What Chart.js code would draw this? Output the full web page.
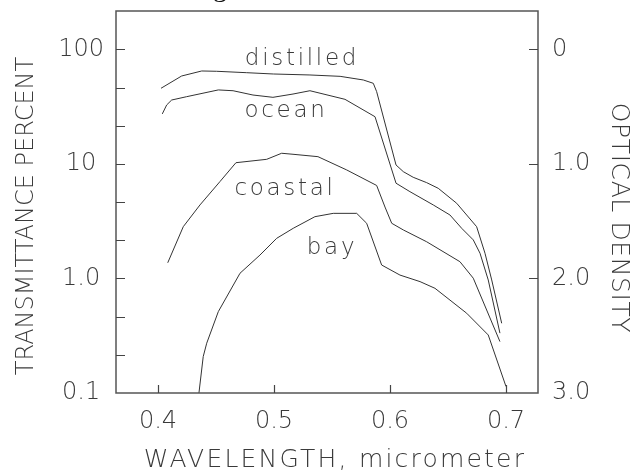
<!DOCTYPE html>
<html>
<head>
<meta charset="utf-8">
<script src="https://cdn.jsdelivr.net/npm/chart.js@4.4.1/dist/chart.umd.min.js"></script>
<style>
  html, body { margin: 0; padding: 0; background: #ffffff; }
  #wrap { width: 632px; height: 470px; }
</style>
</head>
<body>
<div id="wrap"><canvas id="chart" width="632" height="470"></canvas></div>
<script>
// Spectral transmittance of water samples (wavelength in micrometers, transmittance in percent)
const distilledWl = [0.4026, 0.4204, 0.4377, 0.4506, 0.4765, 0.4994, 0.5310, 0.5570, 0.5770, 0.5856, 0.5885, 0.6052, 0.6115, 0.6200, 0.6316, 0.6416, 0.6575, 0.6747, 0.6819, 0.6877, 0.6963];
const distilledT  = [45.7, 58.5, 64.7, 64.3, 62.5, 60.9, 59.7, 58.1, 54.0, 50.5, 42.7, 9.78, 8.55, 7.64, 6.86, 6.12, 4.53, 2.83, 1.66, 0.97, 0.406];

const oceanWl = [0.4037, 0.4075, 0.4118, 0.4247, 0.4520, 0.4647, 0.4819, 0.4991, 0.5164, 0.5310, 0.5612, 0.5871, 0.6052, 0.6172, 0.6373, 0.6517, 0.6618, 0.6718, 0.6776, 0.6847, 0.6948];
const oceanT  = [27.3, 32.7, 36.1, 38.6, 44.2, 43.5, 39.9, 38.1, 40.7, 43.5, 36.6, 25.8, 6.78, 5.72, 4.38, 3.58, 2.74, 2.17, 1.66, 0.97, 0.333];

const coastalWl = [0.4084, 0.4218, 0.4362, 0.4534, 0.4672, 0.4937, 0.5066, 0.5164, 0.5379, 0.5627, 0.5885, 0.5957, 0.6015, 0.6115, 0.6316, 0.6603, 0.6718, 0.6948];
const coastalT  = [1.37, 2.83, 4.38, 7.0, 10.24, 10.96, 12.38, 12.13, 11.56, 8.85, 6.48, 4.20, 3.03, 2.65, 2.09, 1.40, 1.005, 0.281];

const bayWl = [0.4353, 0.4390, 0.4420, 0.4520, 0.4707, 0.4879, 0.5023, 0.5166, 0.5353, 0.5511, 0.5713, 0.5799, 0.5928, 0.6086, 0.6259, 0.6388, 0.6661, 0.6847, 0.7000];
const bayT  = [0.1, 0.208, 0.272, 0.513, 1.11, 1.60, 2.24, 2.74, 3.46, 3.70, 3.70, 3.03, 1.31, 1.07, 0.938, 0.82, 0.497, 0.321, 0.114];

// Curve names and where each name sits (wavelength, transmittance of its baseline)
const curveNames = ['distilled', 'ocean', 'coastal', 'bay'];
const curveNameWl = [0.5241, 0.5103, 0.5095, 0.5500];
const curveNameT  = [72.9, 25.6, 5.35, 1.64];

// Axis ticks and titles
const wlTicks = [0.4, 0.5, 0.6, 0.7];
const wlTickLabels = ['0.4', '0.5', '0.6', '0.7'];
const transDecades = [0.1, 1, 10, 100];
const transDecadeLabels = ['0.1', '1.0', '10', '100'];
const densityTicks = [0, 1, 2, 3];
const densityTickLabels = ['0', '1.0', '2.0', '3.0'];
const xTitle = 'WAVELENGTH, micrometer';
const yTitle = 'TRANSMITTANCE PERCENT';
const y2Title = 'OPTICAL DENSITY';

// Axis ranges
const wlMin = 0.3638, wlMax = 0.7276;
const transMin = 0.1, transMax = 216;
const densityStep = 1 / 3;          // minor tick spacing on the transmittance axis, in density units
const densityOf = t => 2 - Math.log10(t);

const FONT = "'DejaVu Sans'";
const INK = '#3a3a3a';
const LINE = '#333333';

function pairs(xs, ys) { return xs.map((x, i) => ({ x: x, y: ys[i] })); }

const lineStyle = { showLine: true, pointRadius: 0, borderColor: LINE, borderWidth: 1, tension: 0, fill: false };

function noPad(s) { s.paddingTop = 0; s.paddingBottom = 0; s.paddingLeft = 0; s.paddingRight = 0; }

// frame, inward tick marks, axis titles, curve names and the tail of the caption above
const decorations = {
  id: 'decorations',
  afterDatasetsDraw(chart) {
    const { ctx, chartArea: a, scales } = chart;
    ctx.save();
    ctx.strokeStyle = '#555';
    ctx.lineWidth = 1.5;
    ctx.strokeRect(a.left, a.top, a.right - a.left, a.bottom - a.top);

    ctx.lineWidth = 1.2;
    ctx.strokeStyle = '#444';
    ctx.beginPath();
    scales.y.ticks.forEach(t => {
      const py = Math.round(scales.y.getPixelForValue(t.value)) + 0.5;
      if (py > a.top + 2 && py < a.bottom - 2) { ctx.moveTo(a.left, py); ctx.lineTo(a.left + 9, py); }
    });
    scales.yD.ticks.forEach(t => {
      const py = Math.round(scales.yD.getPixelForValue(t.value)) + 0.5;
      if (py > a.top + 2 && py < a.bottom - 2) { ctx.moveTo(a.right, py); ctx.lineTo(a.right - 9, py); }
    });
    scales.x.ticks.forEach(t => {
      const px = Math.round(scales.x.getPixelForValue(t.value)) + 0.5;
      ctx.moveTo(px, a.bottom); ctx.lineTo(px, a.bottom - 8);
    });
    ctx.stroke();

    ctx.fillStyle = INK;
    ctx.textAlign = 'center';
    ctx.textBaseline = 'alphabetic';

    // axis titles
    ctx.font = '200 25px ' + FONT;
    ctx.letterSpacing = '2.2px';
    ctx.fillText(xTitle, (a.left + a.right) / 2 + 8, a.bottom + 74);

    ctx.letterSpacing = '0px';
    ctx.font = '200 24px ' + FONT;
    ctx.save();
    ctx.translate(33, (a.top + a.bottom) / 2 + 14);
    ctx.rotate(-Math.PI / 2);
    ctx.fillText(yTitle, 0, 0);
    ctx.restore();

    ctx.font = '200 25px ' + FONT;
    ctx.letterSpacing = '0.6px';
    ctx.save();
    ctx.translate(a.right + 74, (a.top + a.bottom) / 2 + 16);
    ctx.rotate(Math.PI / 2);
    ctx.fillText(y2Title, 0, 0);
    ctx.restore();

    // curve names
    ctx.font = '200 23px ' + FONT;
    ctx.letterSpacing = '2.7px';
    curveNames.forEach((name, i) => {
      ctx.fillText(name, scales.x.getPixelForValue(curveNameWl[i]), scales.y.getPixelForValue(curveNameT[i]));
    });

    ctx.letterSpacing = '0px';
    ctx.fillStyle = '#111';
    ctx.font = "28px 'Liberation Serif'";
    ctx.fillText('g', 220, -4);
    ctx.restore();
  }
};

new Chart(document.getElementById('chart'), {
  type: 'scatter',
  data: {
    datasets: [
      Object.assign({ label: 'distilled', data: pairs(distilledWl, distilledT) }, lineStyle),
      Object.assign({ label: 'ocean', data: pairs(oceanWl, oceanT) }, lineStyle),
      Object.assign({ label: 'coastal', data: pairs(coastalWl, coastalT) }, lineStyle),
      Object.assign({ label: 'bay', data: pairs(bayWl, bayT) }, lineStyle)
    ]
  },
  options: {
    responsive: false,
    animation: false,
    devicePixelRatio: 1,
    layout: { padding: { top: 11, left: 0, right: 0, bottom: 0 } },
    plugins: { legend: { display: false }, tooltip: { enabled: false } },
    scales: {
      x: {
        type: 'linear', position: 'bottom', min: wlMin, max: wlMax,
        grid: { display: false, drawTicks: false }, border: { display: false },
        afterBuildTicks: s => { s.ticks = wlTicks.map((v, i) => ({ value: v, lbl: wlTickLabels[i] })); },
        afterFit: s => { s.height = 77; noPad(s); },
        ticks: {
          color: INK, padding: 14, maxRotation: 0, autoSkip: false,
          font: { family: FONT, size: 24, weight: 200 },
          callback: (v, i, ticks) => ticks[i].lbl
        },
        title: { display: false }
      },
      y: {
        type: 'logarithmic', position: 'left', min: transMin, max: transMax,
        grid: { display: false, drawTicks: false }, border: { display: false },
        afterBuildTicks: s => {
          const list = [];
          for (let d = densityOf(transMin); d >= densityOf(transMax) - 1e-9; d -= densityStep) {
            const v = Math.pow(10, 2 - d);
            const k = transDecades.findIndex(q => Math.abs(Math.log10(q) - Math.log10(v)) < 1e-6);
            list.push({ value: v, lbl: k >= 0 ? transDecadeLabels[k] : '' });
          }
          s.ticks = list;
        },
        afterFit: s => { s.width = 116; noPad(s); },
        ticks: {
          color: INK, padding: 12, crossAlign: 'center', autoSkip: false,
          font: { family: FONT, size: 24, weight: 200 },
          callback: (v, i, ticks) => ticks[i].lbl
        },
        title: { display: false }
      },
      yD: {
        type: 'linear', position: 'right', reverse: true,
        min: densityOf(transMax), max: densityOf(transMin),
        grid: { display: false, drawTicks: false }, border: { display: false },
        afterBuildTicks: s => { s.ticks = densityTicks.map((v, i) => ({ value: v, lbl: densityTickLabels[i] })); },
        afterFit: s => { s.width = 94; noPad(s); },
        ticks: {
          color: INK, padding: 14, crossAlign: 'near', autoSkip: false,
          font: { family: FONT, size: 24, weight: 200 },
          callback: (v, i, ticks) => ticks[i].lbl
        },
        title: { display: false }
      }
    }
  },
  plugins: [decorations]
});
</script>
</body>
</html>
